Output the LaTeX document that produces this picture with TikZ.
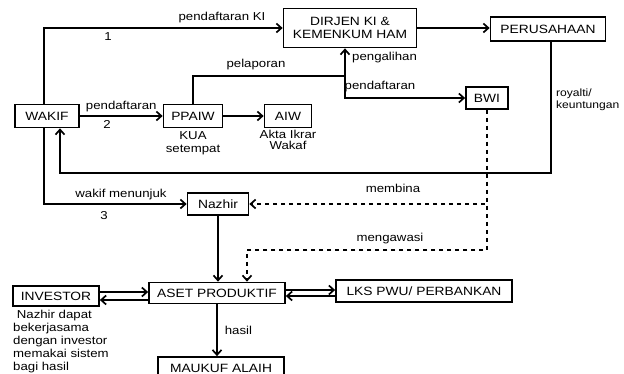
\documentclass[tikz,border=0pt]{standalone}
\usepackage{fontspec}
\setmainfont{Liberation Sans}[FakeStretch=1.15]
\usetikzlibrary{positioning, arrows.meta}

\begin{document}
\begin{tikzpicture}[
    x=1pt, y=-1pt,
    box/.style={rectangle, draw, line width=1.7pt, inner sep=2pt, align=center, font=\fontsize{12}{13}\selectfont},
    lbl/.style={inner sep=1pt, align=center, font=\fontsize{11.5}{12.5}\selectfont},
    arrow/.style={-{Straight Barb[length=5pt, width=9pt]}, line width=1.7pt},
    dasharrow/.style={arrow, dash pattern=on 4pt off 4pt}
]
\useasboundingbox (0,0) rectangle (624,374);

% Boxes
\node (wakif) [box, minimum width=64pt, minimum height=23pt] at (47,116) {WAKIF};
\node (dirjen) [box, minimum width=133pt, minimum height=39pt] at (350,28) {DIRJEN KI \&\\KEMENKUM HAM};
\node (perusahaan) [box, minimum width=115pt, minimum height=24pt] at (548,29) {PERUSAHAAN};
\node (ppaiw) [box, minimum width=59pt, minimum height=23pt] at (193,116) {PPAIW};
\node (aiw) [box, minimum width=47pt, minimum height=23pt] at (288,116) {AIW};
\node (bwi) [box, minimum width=42pt, minimum height=22pt] at (487,98) {BWI};
\node (nazhir) [box, minimum width=61pt, minimum height=22pt] at (218,204) {Nazhir};
\node (aset) [box, minimum width=136pt, minimum height=21pt] at (217,293) {ASET PRODUKTIF};
\node (investor) [box, minimum width=86pt, minimum height=20pt] at (56,296) {INVESTOR};
\node (lks) [box, minimum width=176pt, minimum height=22pt] at (424,291) {LKS PWU/ PERBANKAN};
\node (maukuf) [box, minimum width=126pt, minimum height=22pt] at (221,368) {MAUKUF ALAIH};

% Notes under boxes
\node (kua) [lbl, below=2pt of ppaiw, font=\fontsize{11.5}{13.5}\selectfont] {KUA\\setempat};
\node (akta) [lbl, below=1pt of aiw, font=\fontsize{11.5}{11}\selectfont] {Akta Ikrar\\Wakaf};
\node (catatan) [lbl, anchor=north west, align=left, font=\fontsize{11.5}{13}\selectfont] at (12,309)
    {\ Nazhir dapat\\bekerjasama\\dengan investor\\memakai sistem\\bagi hasil};

% Junctions
\coordinate (junc) at (345,76);
\coordinate (royc) at (300,173);
\coordinate (awasc) at (300,250);

% Arrows
\draw [arrow] ([xshift=-3pt]wakif.north) |- (dirjen.west);
\draw [arrow] (dirjen.east) -- (dirjen.east -| perusahaan.west);
\draw [arrow] ([xshift=3pt]perusahaan.south) |- (royc) -| ([xshift=13pt]wakif.south);
\draw [arrow] (wakif) -- (ppaiw)
    node [lbl, midway, above=2pt] {pendaftaran}
    node [lbl, pos=0.33, below=3pt] {2};
\draw [arrow] (ppaiw) -- (aiw);
\draw [arrow] (ppaiw.north) |- (junc) -- (junc |- dirjen.south);
\draw [arrow] (junc) |- (bwi.west);
\draw [arrow] ([xshift=-3pt]wakif.south) |- (nazhir.west);
\draw [arrow] (nazhir.south) -- (nazhir.south |- aset.north);
\draw [arrow] ([yshift=4pt]investor.east) -- ([yshift=4pt]investor.east -| aset.west);
\draw [arrow] ([yshift=-4pt]investor.east -| aset.west) -- ([yshift=-4pt]investor.east);
\draw [arrow] ([yshift=3pt]aset.east) -- ([yshift=3pt]aset.east -| lks.west);
\draw [arrow] ([yshift=-5pt]lks.west) -- ([yshift=-5pt]lks.west -| aset.east);
\draw [arrow] (aset.south) -- (aset.south |- maukuf.north) node [lbl, midway, right=6pt] {hasil};
\draw [dasharrow] (bwi.south) |- (nazhir.east);
\draw [dasharrow] (bwi.south) |- (awasc) -| ([xshift=30pt]aset.north);

% Labels
\node (lblki) [lbl] at (222,18) {pendaftaran KI};
\node (lblsatu) [lbl] at (108,37) {1};
\node (lbllapor) [lbl] at (256,65) {pelaporan};
\node (lblalih) [lbl, anchor=west] at (351,58) {pengalihan};
\node (lbldaftar) [lbl] at (380,87) {pendaftaran};
\node (lblroyal) [lbl, anchor=west, align=left, font=\fontsize{10.5}{12.5}\selectfont] at (555,100) {royalti/\\keuntungan};
\node (lbltunjuk) [lbl] at (121,195) {wakif menunjuk};
\node (lbltiga) [lbl] at (104,216) {3};
\node (lblbina) [lbl] at (393,188) {membina};
\node (lblawas) [lbl] at (390,239) {mengawasi};

\end{tikzpicture}
\end{document}
